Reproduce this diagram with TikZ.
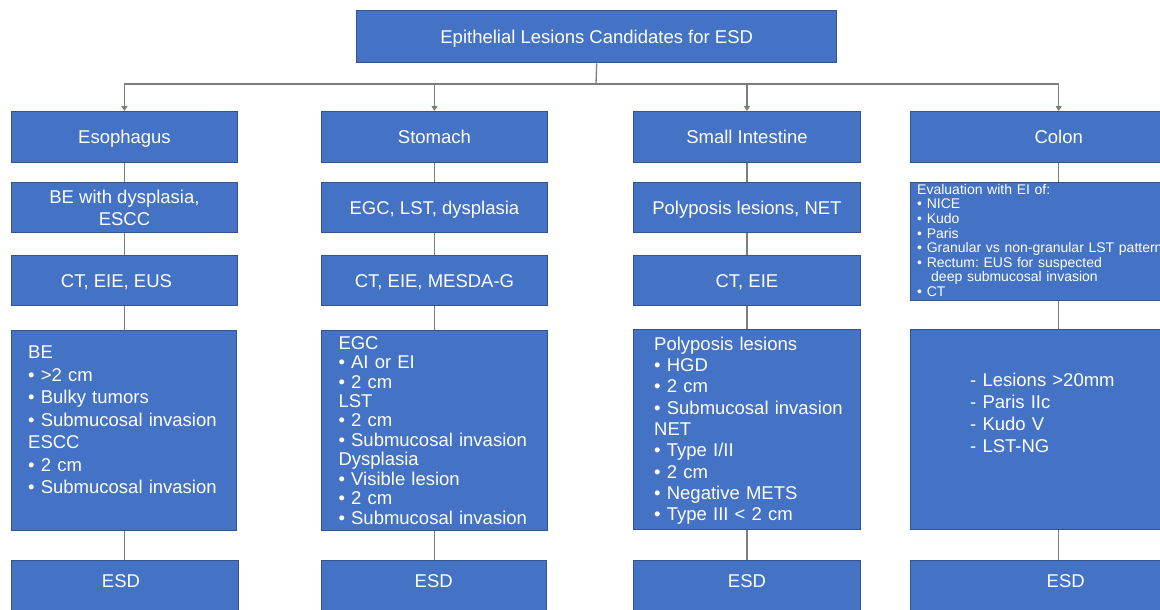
\documentclass[tikz,border=0pt]{standalone}
\usepackage{fontspec}
\setmainfont{Liberation Sans}
\frenchspacing
\usetikzlibrary{arrows.meta}
\definecolor{esdblue}{HTML}{4472C4}
\definecolor{esdedge}{HTML}{34558C}
\definecolor{linkgray}{HTML}{7C7C84}
\begin{document}
\begin{tikzpicture}[x=1pt, y=-1pt,
		blk/.style={draw=esdedge, line width=1.4pt, fill=esdblue, text=white, inner sep=0pt,
			anchor=north west, align=center, font=\fontsize{18.5}{22}\selectfont},
		oneline/.style={text height=13.3pt, text depth=0pt},
		esdbox/.style={text height=26.6pt, text depth=46pt},
		txt/.style={text=white, inner sep=0pt, anchor=north west, align=left, text width=#1},
		link/.style={draw=linkgray, line width=1.3pt},
		arr/.style={link, -{Triangle[width=6pt, length=5pt]}}]
			\useasboundingbox (0, 0) rectangle (1160, 610);
			% top
			\node[blk, oneline, minimum width=480, minimum height=52] (top) at (356, 10) {Epithelial Lesions Candidates for ESD};
			% first row
			\node[blk, oneline, minimum width=226.5, minimum height=51] (eso1) at (10.5, 111) {Esophagus};
			\node[blk, oneline, minimum width=226.5, minimum height=51] (sto1) at (320.5, 111) {Stomach};
			\node[blk, oneline, minimum width=226.5, minimum height=51] (sin1) at (633, 111) {Small Intestine};
			\node[blk, oneline, minimum width=296, minimum height=51] (col1) at (910, 111) {Colon};
			% second row
			\node[blk, minimum width=226.5, minimum height=50] (eso2) at (10.5, 182) {BE with dysplasia,\\ESCC};
			\node[blk, oneline, minimum width=226.5, minimum height=50] (sto2) at (320.5, 182) {EGC, LST, dysplasia};
			\node[blk, oneline, minimum width=226.5, minimum height=50] (sin2) at (633, 182) {Polyposis lesions, NET};
			\node[blk, minimum width=296, minimum height=118] (col2) at (910, 182) {};
			\node[txt=320, font=\fontsize{14}{14.6}\selectfont] (col2t) at (917, 184) {Evaluation with EI of:\\
				• NICE\\
				• Kudo\\
				• Paris\\
				• Granular vs non-granular LST pattern\\
				• Rectum: EUS for suspected\\
				\hspace*{14pt}deep submucosal invasion\\
				• CT};
			% third row
			\node[blk, oneline, minimum width=226.5, minimum height=50] (eso3) at (10.5, 255) {CT, EIE, EUS\hspace*{16pt}};
			\node[blk, oneline, minimum width=226.5, minimum height=50] (sto3) at (320.5, 255) {CT, EIE, MESDA-G};
			\node[blk, oneline, minimum width=226.5, minimum height=50] (sin3) at (633, 255) {CT, EIE};
			% fourth row
			\node[blk, minimum width=225.5, minimum height=200] (eso4) at (10.5, 330) {};
			\node[blk, minimum width=226.5, minimum height=200] (sto4) at (320.5, 330) {};
			\node[blk, minimum width=226.5, minimum height=200] (sin4) at (633, 329) {};
			\node[blk, minimum width=296, minimum height=200] (col4) at (910, 329) {};
			\node[txt=205, font=\fontsize{18.5}{22.5}\selectfont] (eso4t) at (28, 346) {BE\\
				• >2 cm\\
				• Bulky tumors\\
				• Submucosal invasion\\
				ESCC\\
				• 2 cm\\
				• Submucosal invasion};
			\node[txt=205, font=\fontsize{18.5}{19.45}\selectfont] (sto4t) at (338.3, 336) {EGC\\
				• AI or EI\\
				• 2 cm\\
				LST\\
				• 2 cm\\
				• Submucosal invasion\\
				Dysplasia\\
				• Visible lesion\\
				• 2 cm\\
				• Submucosal invasion};
			\node[txt=205, font=\fontsize{18.5}{21.3}\selectfont] (sin4t) at (654, 336.7) {Polyposis lesions\\
				• HGD\\
				• 2 cm\\
				• Submucosal invasion\\
				NET\\
				• Type I/II\\
				• 2 cm\\
				• Negative METS\\
				• Type III < 2 cm};
			\node[txt=180, font=\fontsize{18.5}{22.1}\selectfont] (col4t) at (970, 372.7) {- Lesions >20mm\\
				- Paris IIc\\
				- Kudo V\\
				- LST-NG};
			% last row
			\node[blk, esdbox, minimum width=227.5] (eso5) at (10.5, 560) {ESD\hspace*{8pt}};
			\node[blk, esdbox, minimum width=225] (sto5) at (320.5, 560) {ESD};
			\node[blk, esdbox, minimum width=226.5] (sin5) at (633, 560) {ESD};
			\node[blk, esdbox, minimum width=310] (col5) at (910, 560) {ESD};
			% connectors
			\coordinate (bus) at (596, 84);
			\draw[link] (top.south) -- (bus);
			\draw[link] (eso1.north |- bus) -- (col1.north |- bus);
			\foreach \c in {eso1, sto1, sin1, col1}
				\draw[arr] (\c.north |- bus) -- (\c.north);
			\foreach \c in {eso, sto, sin}{
				\draw[link] (\c1.south) -- (\c1.south |- \c2.north);
				\draw[link] (\c2.south) -- (\c1.south |- \c3.north);
				\draw[link] (\c3.south) -- (\c1.south |- \c4.north);
				\draw[link] (\c1.south |- \c4.south) -- (\c1.south |- \c5.north);
			}
			\draw[link] (col1.south) -- (col2.north);
			\draw[link] (col2.south) -- (col4.north);
			\draw[link] (col4.south) -- (col4.south |- col5.north);
		\end{tikzpicture}
\end{document}
